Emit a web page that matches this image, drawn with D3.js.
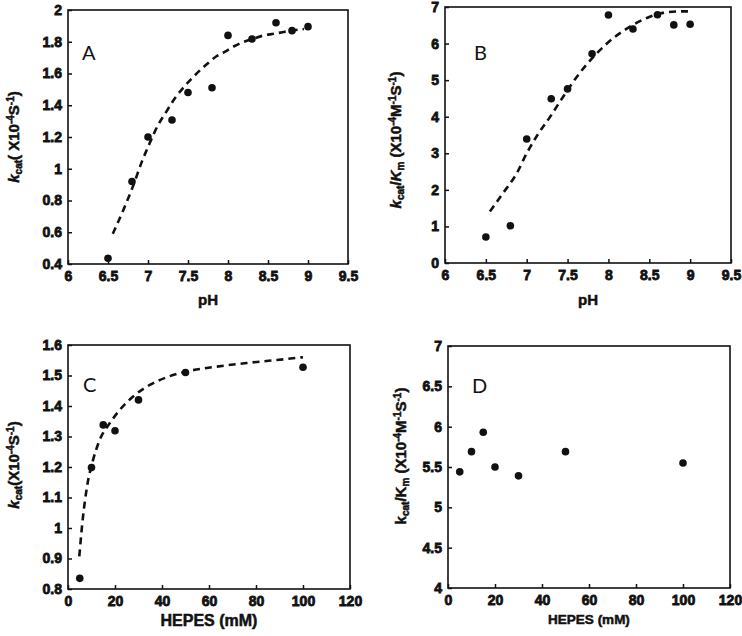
<!DOCTYPE html>
<html>
<head>
<meta charset="utf-8">
<script src="https://cdn.jsdelivr.net/npm/d3@7"></script>
<style>
  body { margin: 0; background: #fff; }
  svg { display: block; font-family: "Liberation Sans", Arial, sans-serif; }
</style>
</head>
<body>
<div id="chart"></div>
<script>
// ---- data ----
const phX = [6.5, 6.8, 7.0, 7.3, 7.5, 7.8, 8.0, 8.3, 8.6, 8.8, 9.0];
const kcatPh = [0.436, 0.92, 1.20, 1.307, 1.48, 1.51, 1.84, 1.817, 1.92, 1.87, 1.895];
const effPh = [0.71, 1.02, 3.39, 4.49, 4.76, 5.72, 6.78, 6.40, 6.79, 6.51, 6.53];

const fitPhX = [6.56, 6.7, 6.82, 6.92, 7.02, 7.12, 7.23, 7.33, 7.44, 7.55, 7.65, 7.76, 7.86, 7.97, 8.07, 8.2, 8.32, 8.45, 8.57, 8.68, 8.78, 8.95];
const fitKcatPh = [0.59, 0.75, 0.90, 1.04, 1.16, 1.27, 1.36, 1.44, 1.51, 1.57, 1.62, 1.67, 1.71, 1.74, 1.77, 1.80, 1.82, 1.84, 1.85, 1.86, 1.87, 1.88];

const fitEffX = [6.55, 6.71, 6.88, 7.0, 7.12, 7.29, 7.45, 7.65, 7.86, 8.06, 8.27, 8.47, 8.67, 8.88, 9.0];
const fitEff = [1.41, 1.91, 2.46, 3.0, 3.46, 4.01, 4.56, 5.2, 5.74, 6.15, 6.47, 6.7, 6.84, 6.88, 6.88];

const hepesX = [5, 10, 15, 20, 30, 50, 100];
const kcatHepes = [0.835, 1.198, 1.338, 1.319, 1.42, 1.51, 1.527];
const effHepes = [5.44, 5.69, 5.93, 5.50, 5.39, 5.69, 5.55];

const fitHepesX = [4.8, 6.4, 8.1, 10.7, 13.5, 17.8, 22, 27.7, 34.8, 41.9, 50.4, 63.2, 77.4, 91.6, 100];
const fitKcatHepes = [0.907, 1.038, 1.136, 1.224, 1.289, 1.344, 1.387, 1.431, 1.469, 1.494, 1.513, 1.529, 1.542, 1.553, 1.56];

const phTicks = [6, 6.5, 7, 7.5, 8, 8.5, 9, 9.5];
const hepesTicks = [0, 20, 40, 60, 80, 100, 120];
const yTicksA = [0.4, 0.6, 0.8, 1, 1.2, 1.4, 1.6, 1.8, 2];
const yTicksB = [0, 1, 2, 3, 4, 5, 6, 7];
const yTicksC = [0.8, 0.9, 1, 1.1, 1.2, 1.3, 1.4, 1.5, 1.6];
const yTicksD = [4, 4.5, 5, 5.5, 6, 6.5, 7];

const $svg = d3.select('#chart').append('svg')
  .attr('width', 742)
  .attr('height', 636);

$svg.append('rect').attr('width', 742).attr('height', 636).attr('fill', '#fff');

const panels = [
  {
    letter: 'A', box: [68, 10, 348, 264], letterPos: [82, 60],
    xDomain: [6, 9.5], yDomain: [0.4, 2], xTicks: phTicks, yTicks: yTicksA,
    xs: phX, ys: kcatPh, fitX: fitPhX, fitY: fitKcatPh,
    xTitle: 'pH', xTitleY: 305, xTitleSize: 15,
    yTitle: { cx: 14, cy: 137, italic: true, parts: 'kcat' }
  },
  {
    letter: 'B', box: [445, 7, 731, 263], letterPos: [474, 60],
    xDomain: [6, 9.5], yDomain: [0, 7], xTicks: phTicks, yTicks: yTicksB,
    xs: phX, ys: effPh, fitX: fitEffX, fitY: fitEff,
    xTitle: 'pH', xTitleY: 305, xTitleSize: 15,
    yTitle: { cx: 396, cy: 140, italic: true, parts: 'eff' }
  },
  {
    letter: 'C', box: [68, 345, 350, 589], letterPos: [83, 392],
    xDomain: [0, 120], yDomain: [0.8, 1.6], xTicks: hepesTicks, yTicks: yTicksC,
    xs: hepesX, ys: kcatHepes, fitX: fitHepesX, fitY: fitKcatHepes,
    xTitle: 'HEPES (mM)', xTitleY: 626, xTitleSize: 16,
    yTitle: { cx: 14, cy: 465, italic: true, parts: 'kcat2' }
  },
  {
    letter: 'D', box: [448, 346, 730, 588], letterPos: [472, 393],
    xDomain: [0, 120], yDomain: [4, 7], xTicks: hepesTicks, yTicks: yTicksD,
    xs: hepesX, ys: effHepes, fitX: null, fitY: null,
    xTitle: 'HEPES (mM)', xTitleY: 624, xTitleSize: 13.5,
    yTitle: { cx: 401, cy: 456, italic: false, parts: 'eff' }
  }
];

function sub(text, s) {
  text.append('tspan').attr('font-size', 10).attr('baseline-shift', '-30%').text(s);
}
function sup(text, s) {
  text.append('tspan').attr('font-size', 10).attr('baseline-shift', '55%').text(s);
}

// heavy black labels, like the original figure
function heavy(sel, w = 0.5) {
  sel.attr('font-weight', 'bold')
    .attr('fill', '#111')
    .attr('stroke', '#111')
    .attr('stroke-width', w);
}

function yTitle(g, t) {
  const text = g.append('text')
    .attr('transform', `translate(${t.cx},${t.cy}) rotate(-90)`)
    .attr('text-anchor', 'middle')
    .attr('dy', '0.35em')
    .attr('font-size', 15)
    .call(heavy);

  const k = text.append('tspan').text('k');
  if (t.italic) k.attr('font-style', 'italic');
  sub(text, 'cat');

  if (t.parts === 'eff') {
    text.append('tspan').text('/');
    const km = text.append('tspan').text('K');
    if (t.italic) km.attr('font-style', 'italic');
    sub(text, 'm');
    text.append('tspan').text('\u00a0(X10');
    sup(text, '-4');
    text.append('tspan').text('M');
    sup(text, '-1');
    text.append('tspan').text('S');
    sup(text, '-1');
    text.append('tspan').text(')');
  } else {
    text.append('tspan').text(t.parts === 'kcat' ? '(\u00a0X10' : '(X10');
    sup(text, '-4');
    text.append('tspan').text('S');
    sup(text, '-1');
    text.append('tspan').text(')');
  }
}

function styleTicks(a) {
  a.select('.domain').remove();
  a.attr('font-family', '"Liberation Sans", Arial, sans-serif');
  a.selectAll('.tick text')
    .attr('font-size', 14)
    .call(heavy, 0.8);
  a.selectAll('.tick line')
    .attr('stroke', '#111')
    .attr('stroke-width', 1.5);
}

panels.forEach(p => {
  const [x0, y0, x1, y1] = p.box;
  const x = d3.scaleLinear().domain(p.xDomain).range([x0, x1]);
  const y = d3.scaleLinear().domain(p.yDomain).range([y1, y0]);
  const g = $svg.append('g');

  const xAxis = d3.axisBottom(x)
    .tickValues(p.xTicks)
    .tickFormat(d => String(d))
    .tickSizeInner(-4)
    .tickSizeOuter(0)
    .tickPadding(5);

  const yAxis = d3.axisLeft(y)
    .tickValues(p.yTicks)
    .tickFormat(d => String(d))
    .tickSizeInner(-4)
    .tickSizeOuter(0)
    .tickPadding(6);

  g.append('g')
    .attr('transform', `translate(0,${y1})`)
    .call(xAxis)
    .call(styleTicks)
    .call(a => a.selectAll('.tick text').attr('dy', '0.85em'));

  g.append('g')
    .attr('transform', `translate(${x0},0)`)
    .call(yAxis)
    .call(styleTicks);

  g.append('rect')
    .attr('x', x0)
    .attr('y', y0)
    .attr('width', x1 - x0)
    .attr('height', y1 - y0)
    .attr('fill', 'none')
    .attr('stroke', '#111')
    .attr('stroke-width', 1.6);

  if (p.fitX) {
    const line = d3.line()
      .x((d, i) => x(p.fitX[i]))
      .y(d => y(d))
      .curve(d3.curveMonotoneX);
    g.append('path')
      .attr('d', line(p.fitY))
      .attr('fill', 'none')
      .attr('stroke', '#111')
      .attr('stroke-width', 2.6)
      .attr('stroke-dasharray', '7,5');
  }

  g.selectAll('.dot')
    .data(p.ys)
    .enter()
    .append('circle')
    .attr('class', 'dot')
    .attr('cx', (d, i) => x(p.xs[i]))
    .attr('cy', d => y(d))
    .attr('r', 3.8)
    .attr('fill', '#111');

  g.append('text')
    .attr('x', p.letterPos[0])
    .attr('y', p.letterPos[1])
    .attr('font-family', 'Lato, "Open Sans", sans-serif')
    .attr('font-size', 20)
    .attr('fill', '#111')
    .text(p.letter);

  g.append('text')
    .attr('x', (x0 + x1) / 2)
    .attr('y', p.xTitleY)
    .attr('text-anchor', 'middle')
    .attr('font-size', p.xTitleSize)
    .call(heavy)
    .text(p.xTitle);

  yTitle(g, p.yTitle);
});
</script>
</body>
</html>
